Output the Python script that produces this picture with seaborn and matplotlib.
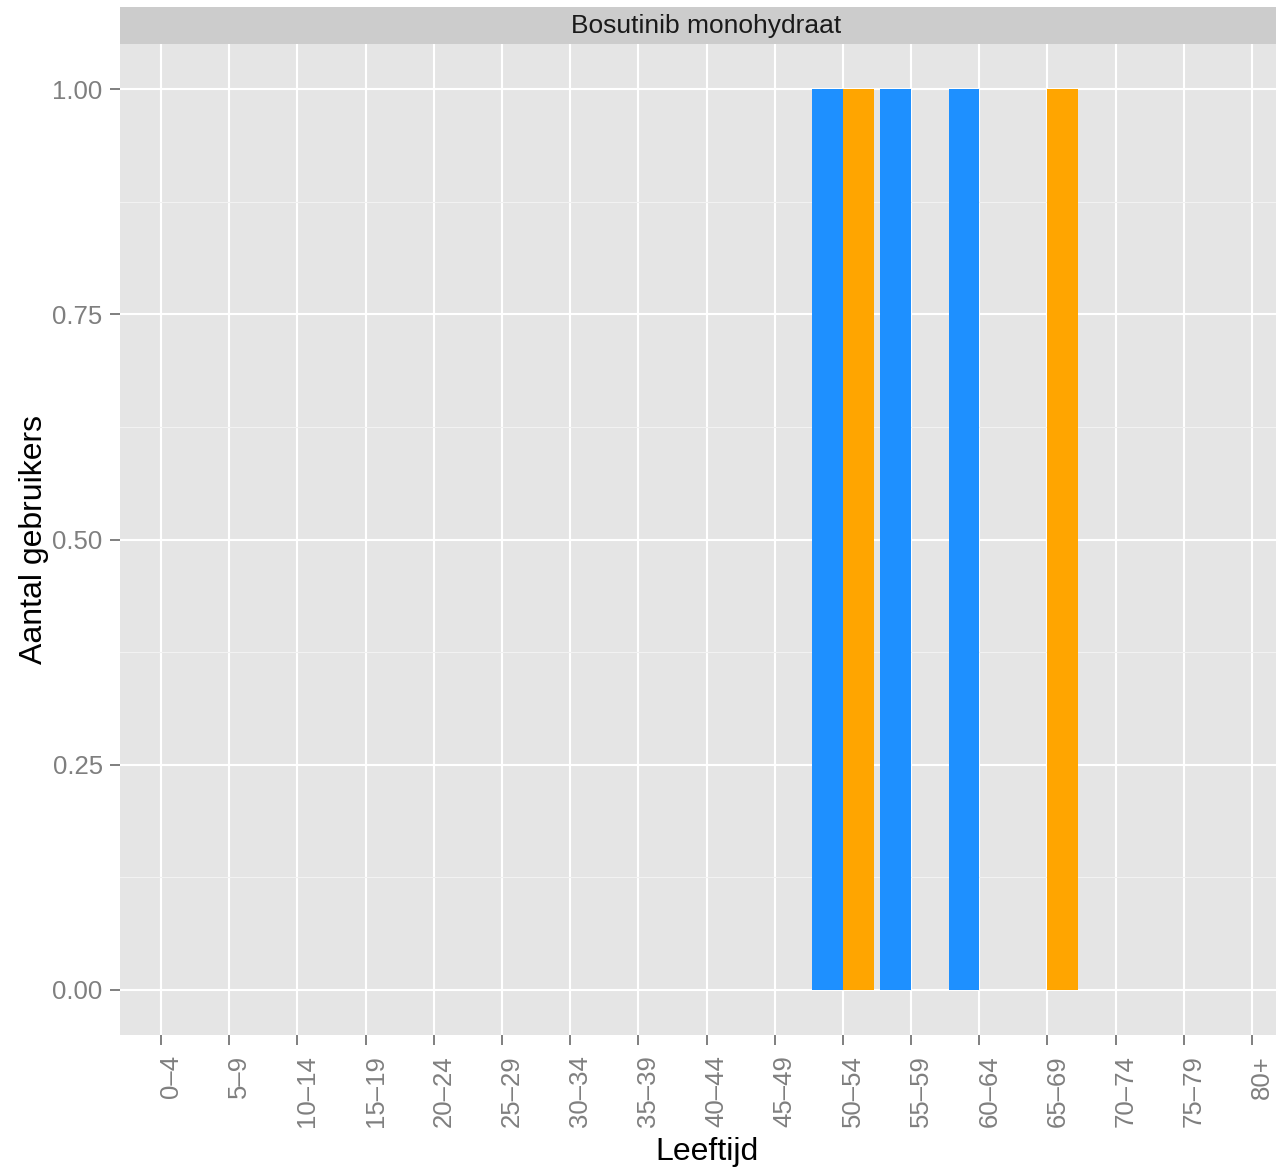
import matplotlib
matplotlib.use("Agg")
import matplotlib.pyplot as plt
import matplotlib.transforms as mtransforms
from matplotlib.ticker import FixedLocator, FormatStrFormatter
import seaborn as sns
import pandas as pd

# data
age_groups = ["0–4", "5–9", "10–14", "15–19", "20–24", "25–29", "30–34",
              "35–39", "40–44", "45–49", "50–54", "55–59", "60–64",
              "65–69", "70–74", "75–79", "80+"]
users_man = [0, 0, 0, 0, 0, 0, 0, 0, 0, 0, 1, 1, 1, 0, 0, 0, 0]
users_vrouw = [0, 0, 0, 0, 0, 0, 0, 0, 0, 0, 1, 0, 0, 1, 0, 0, 0]
sex_order = ["Man", "Vrouw"]
colors = {"Man": "#1E90FF", "Vrouw": "#FFA500"}
y_ticks = [0.0, 0.25, 0.5, 0.75, 1.0]
y_minor = [0.125, 0.375, 0.625, 0.875]

df = pd.DataFrame({
    "Leeftijd": age_groups * 2,
    "Geslacht": ["Man"] * len(age_groups) + ["Vrouw"] * len(age_groups),
    "Aantal": users_man + users_vrouw,
})

plt.rcParams["font.family"] = ["Liberation Sans", "DejaVu Sans"]

W, H = 1276, 1172
fig = plt.figure(figsize=(W / 100, H / 100), dpi=100)
ax = fig.add_axes([120 / W, 1 - 1035 / H, 1173 / W, 991 / H])
ax.set_facecolor("#E5E5E5")

sns.barplot(
    data=df, x="Leeftijd", y="Aantal", hue="Geslacht",
    order=age_groups, hue_order=sex_order, palette=colors,
    width=0.9, dodge=True, saturation=1, errorbar=None,
    linewidth=0, legend=False, ax=ax,
)

ax.set_xlim(-0.6, len(age_groups) - 0.4)
ax.set_ylim(-0.05, 1.05)
ax.set_yticks(y_ticks)
ax.yaxis.set_major_formatter(FormatStrFormatter("%.2f"))
ax.yaxis.set_minor_locator(FixedLocator(y_minor))

ax.set_axisbelow(True)
ax.grid(which="major", axis="both", color="white", linewidth=1.5)
ax.grid(which="minor", axis="y", color="#F2F2F2", linewidth=0.75)
for s in ax.spines.values():
    s.set_visible(False)

ax.set_xlabel("")
ax.set_ylabel("")
ax.tick_params(which="major", color="#7F7F7F", width=1.4, length=7.5,
               labelsize=18.5, labelcolor="#7F7F7F")
ax.tick_params(which="minor", length=0)
ax.tick_params(axis="x", labelrotation=90, pad=7)
ax.tick_params(axis="y", pad=5)

offset = mtransforms.ScaledTranslation(10 / 100, 0, fig.dpi_scale_trans)
for lbl in ax.get_xticklabels():
    lbl.set_transform(lbl.get_transform() + offset)

# facet strip
strip = fig.add_axes([120 / W, 1 - 44 / H, 1173 / W, 37 / H])
strip.set_facecolor("#CCCCCC")
strip.set_xticks([])
strip.set_yticks([])
for s in strip.spines.values():
    s.set_visible(False)
strip.text(0.5, 11 / 37, "Bosutinib monohydraat", ha="center", va="baseline",
           fontsize=19, color="#1A1A1A", transform=strip.transAxes)

fig.text(706.5 / W, 1 - 1160 / H, "Leeftijd", ha="center", va="baseline",
         fontsize=23, color="black")
fig.text(42 / W, 1 - 539.5 / H, "Aantal gebruikers", rotation=90,
         rotation_mode="anchor", ha="center", va="baseline",
         fontsize=23, color="black")

fig.savefig("out.png", dpi=100)
